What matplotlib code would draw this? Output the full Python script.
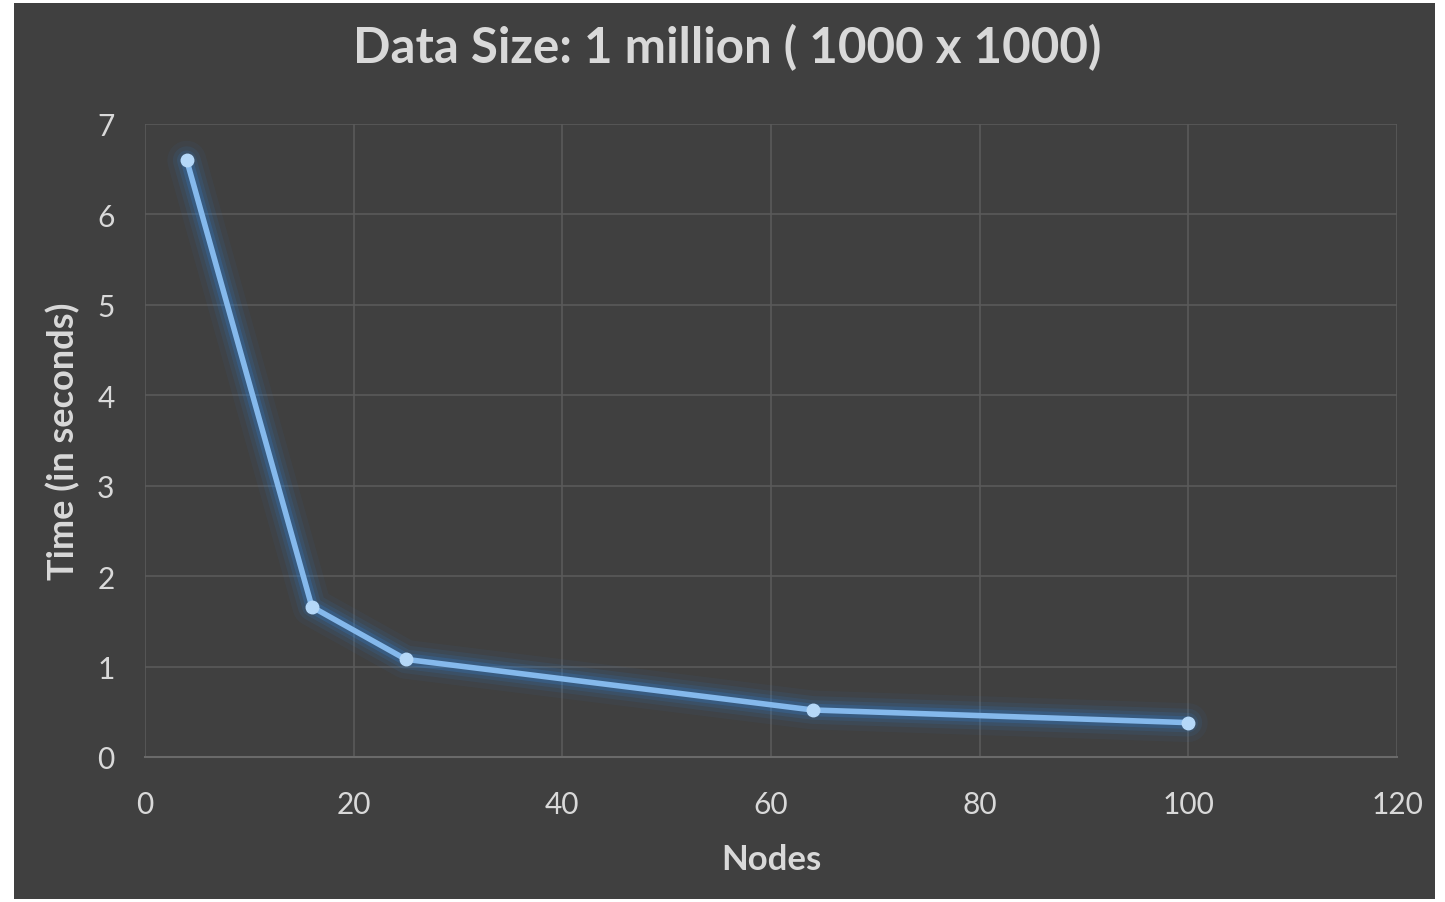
import matplotlib.pyplot as plt
from matplotlib.patches import Rectangle

# Run time against number of nodes
nodes = [4, 16, 25, 64, 100]
seconds = [6.6, 1.66, 1.08, 0.52, 0.38]

x_ticks = [0, 20, 40, 60, 80, 100, 120]
y_ticks = [0, 1, 2, 3, 4, 5, 6, 7]

bg = '#404040'
grid_col = '#5a5a5a'
text_col = '#d9d9d9'
line_col = '#85b9ec'
glow_col = '#2f86e0'

plt.rcParams['font.family'] = ['Lato', 'DejaVu Sans']

fig = plt.figure(figsize=(14.45, 9.03), dpi=100, facecolor='white')
fig.patches.append(Rectangle((14 / 1445, 3 / 903), 1421 / 1445, 896 / 903,
                             transform=fig.transFigure, facecolor=bg,
                             edgecolor='none', zorder=-10))

ax = fig.add_axes([145 / 1445, 145 / 903, 1252 / 1445, 633 / 903])
ax.set_facecolor(bg)
ax.set_xlim(0, 120)
ax.set_ylim(0, 7)
ax.set_xticks(x_ticks)
ax.set_yticks(y_ticks)
ax.grid(True, color=grid_col, linewidth=1.2)
ax.set_axisbelow(True)
for side in ['top', 'right', 'left']:
    ax.spines[side].set_visible(False)
ax.spines['bottom'].set_color('#6a6a6a')
ax.spines['bottom'].set_linewidth(1.5)
ax.tick_params(length=0, labelsize=21.5, colors=text_col)
ax.tick_params(axis='x', pad=24)
ax.tick_params(axis='y', pad=22)

# soft glow under the line
for lw, a in [(28, 0.05), (20, 0.09), (14, 0.13), (9, 0.22)]:
    ax.plot(nodes, seconds, color=glow_col, linewidth=lw, alpha=a,
            solid_capstyle='round', solid_joinstyle='round', zorder=2)
ax.plot(nodes, seconds, color=line_col, linewidth=4, marker='o',
        markersize=9, markerfacecolor='#b5d8f8', markeredgecolor='#b5d8f8',
        solid_joinstyle='round', zorder=3)

# chart title is centred on the whole chart area, not the plot area
fig.text(727 / 1445, 1 - 48 / 903, 'Data Size: 1 million ( 1000 x 1000)',
         color=text_col, fontsize=35.5, fontweight='bold',
         ha='center', va='center')
ax.set_xlabel('Nodes', color=text_col, fontsize=25, fontweight='bold', labelpad=18)
ax.set_ylabel('Time (in seconds)', color=text_col, fontsize=26,
              fontweight='bold', labelpad=12)

fig.savefig('out.png', dpi=100, facecolor='white')
